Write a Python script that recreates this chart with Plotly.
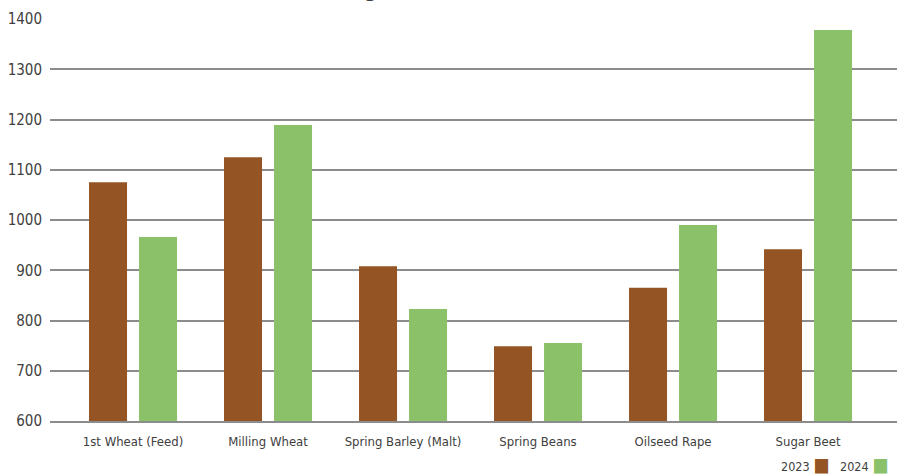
import plotly.graph_objects as go

# Crop gross margins per hectare, two seasons
crops = ["1st Wheat (Feed)", "Milling Wheat", "Spring Barley (Malt)",
         "Spring Beans", "Oilseed Rape", "Sugar Beet"]
margin_2023 = [1075, 1125, 908, 749, 865, 942]
margin_2024 = [966, 1189, 823, 755, 990, 1378]
series_names = ["2023", "2024"]
series_colors = ["#955423", "#8bc168"]
y_ticks = [600, 700, 800, 900, 1000, 1100, 1200, 1300, 1400]

narrow = "DejaVu Sans Condensed, Roboto, sans-serif"

fig = go.Figure()
for name, vals, col in zip(series_names, [margin_2023, margin_2024], series_colors):
    fig.add_trace(go.Bar(x=crops, y=vals, name=name, marker=dict(color=col, line_width=0)))

fig.update_layout(
    width=905, height=474,
    margin=dict(l=50, r=8, t=19, b=53),
    paper_bgcolor="white", plot_bgcolor="white",
    barmode="group", bargap=0.259, bargroupgap=0.24,
    showlegend=False,
)

fig.update_xaxes(
    range=[-0.615, 5.659], automargin=False,
    showgrid=False, showline=True, linecolor="#8c8c8c", linewidth=1.5,
    ticks="", tickfont=dict(family=narrow, size=13, color="#404040"), ticklabelstandoff=8,
)
fig.update_yaxes(
    range=[600, 1400], tickvals=y_ticks, automargin=False,
    showgrid=True, gridcolor="#8c8c8c", gridwidth=1.5,
    zeroline=False, showline=False, ticks="",
    tickfont=dict(family=narrow, size=15, color="#404040"), ticklabelstandoff=7,
)

# Chart heading, sitting at the very top edge of the page
fig.add_annotation(
    text="<b>Gross Margin Return (£) Per Hectare</b>",
    xref="paper", yref="paper", x=0.46, xanchor="center",
    y=1.038, yanchor="bottom", showarrow=False,
    font=dict(family="Open Sans, sans-serif", size=19, color="#404040"),
)

# Legend entries: label followed by a coloured square
for name, col, lx in zip(series_names, series_colors, [831, 890]):
    fig.add_annotation(
        text=f"{name} <span style='color:{col};font-size:19px'>■</span>",
        xref="paper", yref="paper", x=(lx - 50) / 847, xanchor="right",
        y=-0.075, yanchor="top", showarrow=False,
        font=dict(family=narrow, size=12.5, color="#404040"),
    )

fig.add_annotation(
    text="<i>Chart: The most significant increases in gross margins for harvest 2024</i>",
    xref="paper", yref="paper", x=-0.045, xanchor="left",
    y=-0.122, yanchor="top", showarrow=False,
    font=dict(family="Open Sans, sans-serif", size=17, color="#555555"),
)

fig.write_html("out.html")
